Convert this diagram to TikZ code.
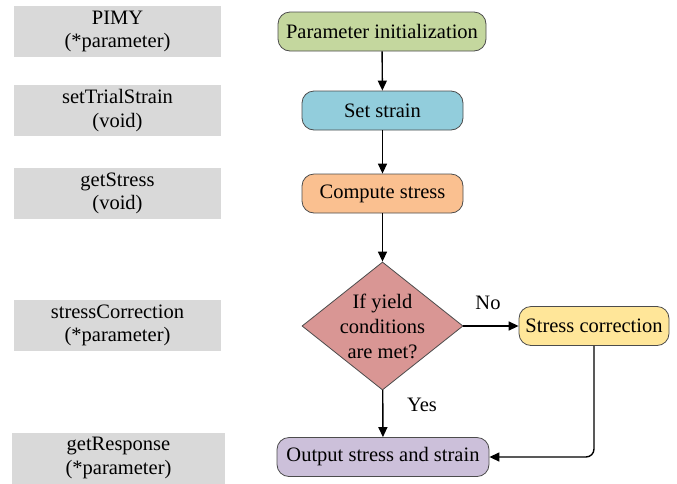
\documentclass[tikz,border=0pt]{standalone}
\usepackage{fontspec}
\setmainfont{Liberation Serif}
\usetikzlibrary{positioning, arrows.meta, shapes.geometric}
\definecolor{InitColor}{RGB}{196,215,158}
\definecolor{StrainColor}{RGB}{146,205,220}
\definecolor{StressColor}{RGB}{250,192,144}
\definecolor{YieldColor}{RGB}{217,150,148}
\definecolor{CorrColor}{RGB}{255,230,153}
\definecolor{OutColor}{RGB}{204,192,218}
\definecolor{FuncColor}{RGB}{217,217,217}
\tikzstyle{arrow} = [line width=1.4pt, black, -{Triangle[length=10pt, width=9pt]}]
\tikzset{
  every node/.style={font=\fontsize{20.5}{23.5}\selectfont},
  func/.style={rectangle, fill=FuncColor, minimum width=207pt, minimum height=51pt, align=center, inner sep=0pt},
  process/.style={rectangle, rounded corners=12pt, draw=black!70, line width=0.8pt, minimum height=39pt, align=center},
  decision/.style={diamond, draw=black!70, line width=0.8pt, fill=YieldColor, aspect=1.26, inner sep=-6pt,
    minimum width=161pt, minimum height=128pt, align=center, font=\fontsize{20.5}{25}\selectfont}
}

\begin{document}
\begin{tikzpicture}[x=1pt, y=-1pt]
  \useasboundingbox (0,0) rectangle (677,483);

  % Function names
  \node[func] (pimy) at (117.5,31.5) {PIMY\\(*parameter)};
  \node[func] (trial) at (117.5,110.5) {setTrialStrain\\(void)};
  \node[func] (getstress) at (117.5,193.5) {getStress\\(void)};
  \node[func] (correction) at (117.5,325.5) {stressCorrection\\(*parameter)};
  \node[func, minimum width=213pt] (response) at (118.5,458) {getResponse\\(*parameter)};

  % Flow chart
  \node[process, fill=InitColor, minimum width=208pt] (init) at (382,31.5) {Parameter initialization};
  \node[process, fill=StrainColor, minimum width=161pt] (strain) at (382.5,110.5) {Set strain};
  \node[process, fill=StressColor, minimum width=161pt] (stress) at (382.5,193.5) {Compute stress};
  \node[decision] (yield) at (382.5,326) {If yield\\conditions\\are met?};
  \node[process, fill=CorrColor, minimum width=150pt] (corr) at (594,326) {Stress correction};
  \node[process, fill=OutColor, minimum width=212pt] (out) at (383,457) {Output stress and strain};

  % Connectors
  \draw[arrow] (init) -- (strain);
  \draw[arrow] (strain) -- (stress);
  \draw[arrow] (stress) -- (yield);
  \draw[arrow] (yield) -- (corr);
  \draw[arrow] (yield) -- (out);
  \draw[arrow, rounded corners=8pt] (corr.south) |- (out.east);

  % Branch labels
  \node (no) at (488,303) {No};
  \node (yes) at (422,405) {Yes};
\end{tikzpicture}
\end{document}
